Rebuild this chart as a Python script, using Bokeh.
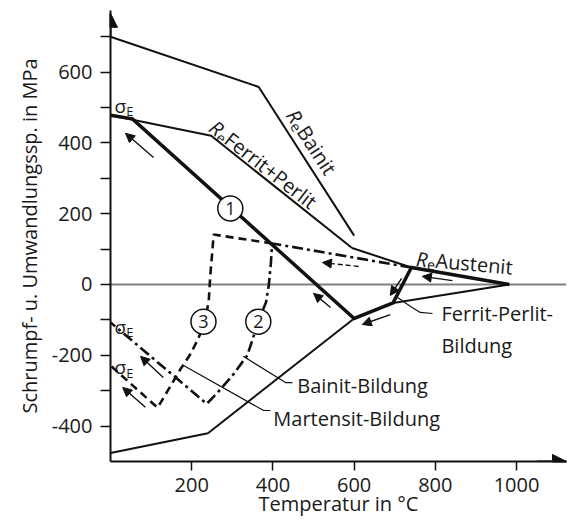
import math
from bokeh.plotting import figure
from bokeh.models import FixedTicker, Arrow, NormalHead
from bokeh.core.properties import value
from bokeh.embed import file_html
from bokeh.resources import INLINE

# ---------------- data ----------------
re_bainit_x = [0, 365, 600]
re_bainit_y = [700, 558, 138]
re_fp_x = [0, 248, 595]
re_fp_y = [478, 420, 103]
re_aust_x = [595, 741, 982]
re_aust_y = [103, 48, 0]
path1_x = [0, 54, 600, 696, 741, 982]
path1_y = [478, 468, -96, -52, 48, 0]
lower_x = [0, 240, 600, 696, 982]
lower_y = [-476, -420, -96, -52, 0]
path2_x = [741, 398, 395, 390, 383, 364, 350, 337, 304, 264, 237, 0]
path2_y = [48, 116, 60, 0, -50, -105, -155, -200, -252, -305, -337, -107]
path3_x = [398, 254, 251, 246, 242, 232, 214, 195, 173, 141, 116, 0]
path3_y = [116, 141, 96, 30, -45, -110, -158, -200, -238, -300, -348, -229]

y_ticks = [-400, -200, 0, 200, 400, 600]
y_minor = [-300, -100, 100, 300, 500, 700]
x_ticks = [200, 400, 600, 800, 1000]

XMAX, YMIN, YMAX = 1123, -500, 774
FW, FH = 456, 451
KX = FW / XMAX
KY = FH / (YMAX - YMIN)

FONT = value("Open Sans")
TXT = "#1a1a1a"
INK = "#111111"

p = figure(frame_width=FW, frame_height=FH, x_range=(0, XMAX), y_range=(YMIN, YMAX),
           output_backend="svg", toolbar_location=None,
           min_border_left=110, min_border_right=4, min_border_top=10, min_border_bottom=62)
p.outline_line_color = None
p.grid.visible = False
p.background_fill_color = "white"

# axes
p.yaxis.ticker = FixedTicker(ticks=y_ticks, minor_ticks=y_minor)
p.xaxis.ticker = FixedTicker(ticks=x_ticks, minor_ticks=[])
p.yaxis.major_label_overrides = {t: str(t) for t in y_ticks}
for ax in (p.xaxis[0], p.yaxis[0]):
    ax.axis_line_width = 2
    ax.axis_line_color = INK
    ax.major_tick_line_width = 1.5
    ax.minor_tick_line_width = 1.5
    ax.major_tick_line_color = INK
    ax.minor_tick_line_color = INK
    ax.major_tick_in = 0
    ax.minor_tick_in = 0
    ax.major_label_text_font = "Open Sans"
    ax.major_label_text_font_size = "20px"
    ax.major_label_text_color = TXT
    ax.axis_label_text_font = "Open Sans"
    ax.axis_label_text_font_size = "20px"
    ax.axis_label_text_font_style = "normal"
    ax.axis_label_text_color = TXT
p.yaxis.major_tick_out = 10
p.yaxis.minor_tick_out = 10
p.yaxis.major_label_standoff = 8
p.yaxis.axis_label_standoff = 6
p.xaxis.major_tick_out = 9
p.xaxis.major_label_standoff = 7
p.xaxis.axis_label_standoff = -5
p.yaxis.axis_label = "Schrumpf- u. Umwandlungssp. in MPa"
p.xaxis.axis_label = "Temperatur in °C"

# axis arrow heads
p.add_layout(Arrow(end=NormalHead(size=14, fill_color=INK, line_color=INK, line_width=1),
                   x_start=0, y_start=700, x_end=0, y_end=YMAX - 8, line_width=2, line_color=INK))
p.add_layout(Arrow(end=NormalHead(size=14, fill_color=INK, line_color=INK, line_width=1),
                   x_start=1050, y_start=YMIN, x_end=XMAX, y_end=YMIN, line_width=2, line_color=INK))

# zero line
p.line([0, XMAX], [0, 0], line_color="#808080", line_width=2)

# thin yield strength lines
p.line(re_bainit_x, re_bainit_y, line_color=INK, line_width=2)
p.line(re_fp_x, re_fp_y, line_color=INK, line_width=2)
p.line(re_aust_x, re_aust_y, line_color=INK, line_width=2)
p.line(lower_x, lower_y, line_color=INK, line_width=2)

# paths
p.line(path1_x, path1_y, line_color=INK, line_width=3.5, line_join="miter")
p.line(path2_x, path2_y, line_color=INK, line_width=2.6, line_dash="11 4 3 4")
p.line(path3_x, path3_y, line_color=INK, line_width=2.6, line_dash="8 5")

# leader lines
p.line([180, 377, 394], [-229, -356, -356], line_color=INK, line_width=1.2)
p.line([327, 431, 448], [-203, -277, -277], line_color=INK, line_width=1.2)
p.line([707, 739, 763, 793], [-37, -62, -79, -82], line_color=INK, line_width=1.2)

# small arrows
def arr(x0, y0, x1, y1, dash="solid"):
    p.add_layout(Arrow(end=NormalHead(size=9, fill_color=INK, line_color=INK, line_width=1),
                       x_start=x0, y_start=y0, x_end=x1, y_end=y1,
                       line_width=1.4, line_color=INK, line_dash=dash))

arr(106, 359, 37, 427)
arr(542, -65, 500, -25)
arr(689, -85, 620, -113)
arr(842, 11, 768, 23)
arr(717, 17, 689, -31)
arr(611, 51, 522, 62, dash="5 3")
arr(130, -263, 74, -203)
arr(86, -347, 30, -291)

# circled numbers
p.scatter([295, 364, 229], [215, -105, -105], size=25, marker="circle",
          fill_color="white", line_color=INK, line_width=1.5)
p.text([295, 364, 229], [215, -105, -105], text=["1", "2", "3"], text_font=FONT,
       text_font_size="18px", text_align="center", text_baseline="middle", text_color=TXT)

# sigma_E labels
for ys, ye in [(503, 489), (-119, -133), (-234, -249)]:
    p.text([10], [ys], text=["σ"], text_font=FONT, text_font_size="19px",
           text_align="left", text_baseline="alphabetic", text_color=TXT)
    p.text([39], [ye], text=["E"], text_font=FONT, text_font_size="13px",
           text_align="left", text_baseline="alphabetic", text_color=TXT)

# rotated R_e labels
def rot_label(x0, y0, ang_deg, pieces):
    a = math.radians(ang_deg)
    for txt, adv, drop, size, style in pieces:
        dx = adv * math.cos(a) + drop * math.sin(a)
        dy = adv * math.sin(a) - drop * math.cos(a)
        p.text([x0 + dx / KX], [y0 + dy / KY], text=[txt], angle=a, text_font=FONT,
               text_font_size=f"{size}px", text_font_style=style,
               text_align="left", text_baseline="alphabetic", text_color=TXT)

rot_label(446, 489, -57, [("R", 0, 0, 20, "italic"), ("e", 11.5, 5, 14, "normal"),
                          ("Bainit", 19.5, 0, 20, "normal")])
rot_label(250, 452, -38, [("R", 0, 0, 20, "italic"), ("e", 11.5, 5, 14, "normal"),
                          ("Ferrit+Perlit", 19.5, 0, 20, "normal")])
rot_label(753, 73, -5, [("R", 0, 0, 20, "italic"), ("e", 11.5, 5, 14, "normal"),
                        ("Austenit", 19.5, 0, 20, "normal")])

# formation labels
for x, y, t in [(815, -82, "Ferrit-Perlit-"), (815, -172, "Bildung"),
                (460, -285, "Bainit-Bildung"), (401, -379, "Martensit-Bildung")]:
    p.text([x], [y], text=[t], text_font=FONT, text_font_size="20px",
           text_align="left", text_baseline="middle", text_color=TXT)

open("out.html", "w").write(file_html(p, INLINE))
